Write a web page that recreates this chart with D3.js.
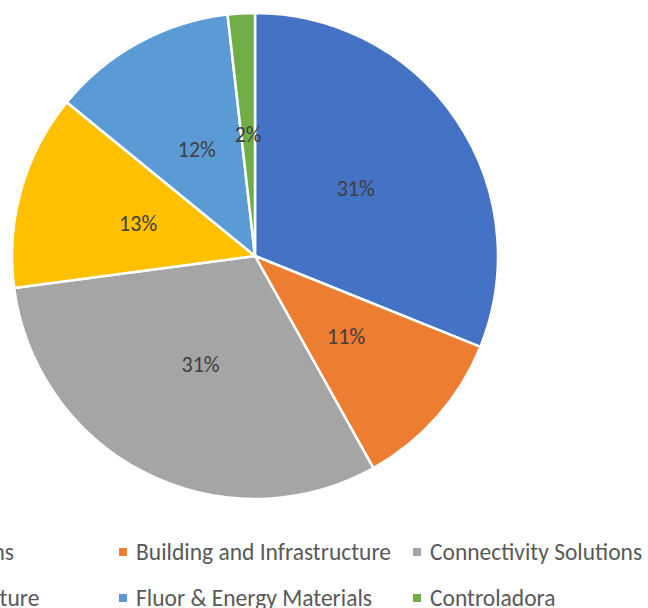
<!DOCTYPE html>
<html>
<head>
<meta charset="utf-8">
<script src="https://cdn.jsdelivr.net/npm/d3@7"></script>
<style>
  html, body { margin: 0; padding: 0; background: #fff; overflow: hidden; }
  svg { display: block; }
  text { font-family: Calibri, Carlito, Lato, sans-serif; }
</style>
</head>
<body>
<svg id="chart" width="648" height="608"></svg>
<script>
  // Segments, clockwise from 12 o'clock
  const segments = ['Polymer Solutions', 'Building and Infrastructure', 'Connectivity Solutions',
                    'Precision Agriculture', 'Fluor & Energy Materials', 'Controladora'];
  const shares   = [31.1, 10.8, 31.0, 13.0, 12.3, 1.8];
  const colors   = ['#4472C4', '#ED7D31', '#A5A5A5', '#FFC000', '#5B9BD5', '#70AD47'];

  const cx = 255, cy = 256, R = 243;

  const svg = d3.select('#chart');
  const color = d3.scaleOrdinal().domain(segments).range(colors);

  const pie = d3.pie().sort(null).value(d => d.v);
  const arcs = pie(segments.map((name, i) => ({ name, v: shares[i] })));
  const arc = d3.arc().innerRadius(0).outerRadius(R);

  const g = svg.append('g').attr('transform', `translate(${cx},${cy})`);

  g.selectAll('path.slice').data(arcs).join('path')
    .attr('class', 'slice')
    .attr('d', arc)
    .attr('fill', d => color(d.data.name))
    .attr('stroke', '#fff').attr('stroke-width', 2.5).attr('stroke-linejoin', 'round');

  g.selectAll('text.lbl').data(arcs).join('text')
    .attr('class', 'lbl')
    .attr('transform', d => `translate(${arc.centroid(d)})`)
    .attr('text-anchor', 'middle')
    .attr('dy', '0.35em')
    .attr('fill', '#404040')
    .style('font-size', '22px')
    .text(d => Math.round(d.data.v) + '%');

  // Legend: 3 columns x 2 rows, centred under the pie (overflows on the left like the original)
  const colX = d3.scaleLinear().domain([0, 1]).range([-175, 119]);
  const rowY = d3.scaleLinear().domain([0, 1]).range([552, 598]);

  const leg = svg.append('g').selectAll('g.item').data(segments).join('g')
    .attr('class', 'item')
    .attr('transform', (d, i) => `translate(${colX(i % 3)},${rowY(Math.floor(i / 3))})`);

  leg.append('rect')
    .attr('x', 0).attr('y', -4).attr('width', 8).attr('height', 8)
    .attr('fill', d => color(d));

  leg.append('text')
    .attr('x', 17).attr('dy', '0.35em')
    .attr('fill', '#595959')
    .style('font-size', '23.5px')
    .text(d => d);
</script>
</body>
</html>
